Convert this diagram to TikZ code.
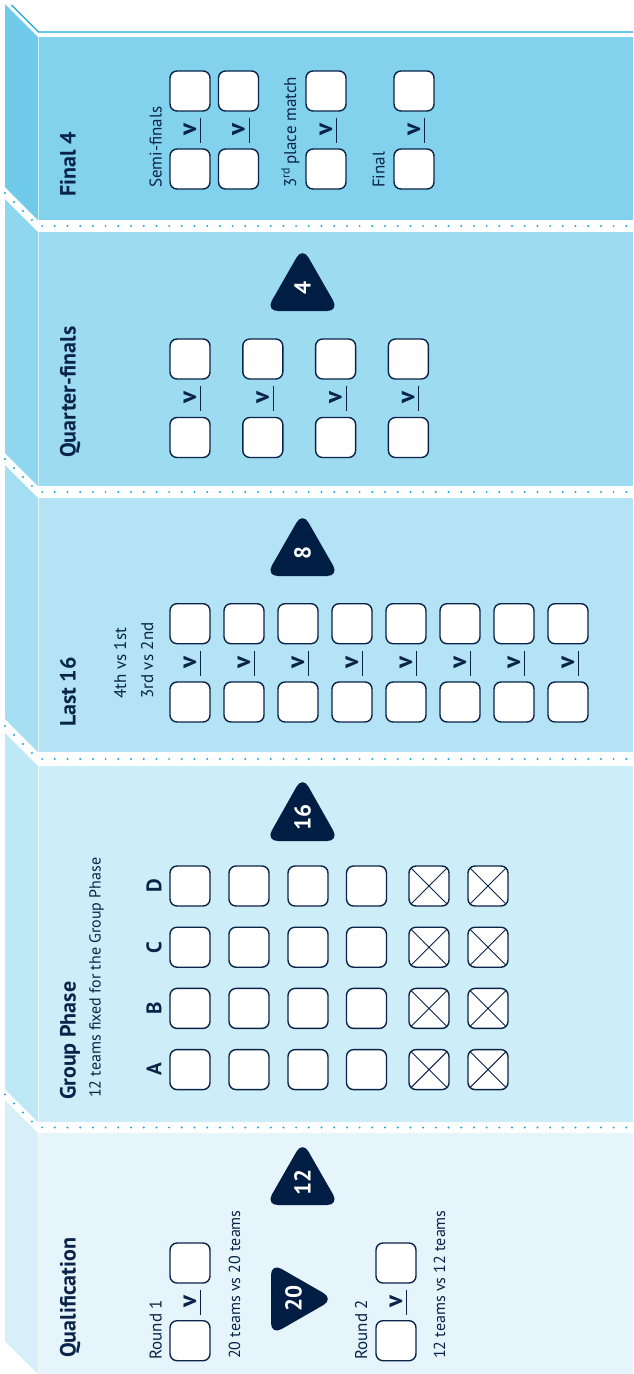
\documentclass[tikz,border=0pt]{standalone}
\usepackage{fontspec}
\setmainfont{PT Sans}
\definecolor{navy}{HTML}{0A2348}
\definecolor{trifill}{HTML}{001D44}
\definecolor{dotc}{HTML}{1DA7E0}
\definecolor{fA}{HTML}{82D1ED}\definecolor{sA}{HTML}{70CBEB}
\definecolor{fB}{HTML}{9DDBF1}\definecolor{sB}{HTML}{8FD6EF}
\definecolor{fC}{HTML}{B3E3F4}\definecolor{sC}{HTML}{A6DFF3}
\definecolor{fD}{HTML}{CDEDF8}\definecolor{sD}{HTML}{BFE8F6}
\definecolor{fE}{HTML}{E5F5FB}\definecolor{sE}{HTML}{D6EFF9}
\newcommand\vsmark[3]{%
  \node[vmark] (#1) at (#2+6,#3) {v};
  \draw[uline] (#2+10.5,#3-12.5) -- (#2+10.5,#3+12.5);}
\newcommand\slab[4]{%
  \fill[#4] (38,#1) -- (5,#1-33) -- (5,#2-33) -- (38,#2) -- cycle;
  \fill[#3] (38,#1) rectangle (633,#2);}
\newcommand\uptri[4]{%
  \fill[trifill,rounded corners=12pt] (302.5,#3) -- (265.9,#3) -- (302.5,#2-6.9) -- (339.1,#3) -- cycle;
  \node[num] (#1) at (302.5,#2+34) {#4};}
\begin{document}
\begin{tikzpicture}[x=1pt,y=-1pt,
  box/.style={draw=navy,line width=1.4pt,fill=white,rounded corners=7pt,minimum width=40pt,minimum height=40pt,inner sep=0pt},
  xbox/.style={box,path picture={\draw[navy,line width=.9pt] (path picture bounding box.north west)--(path picture bounding box.south east) (path picture bounding box.north east)--(path picture bounding box.south west);}},
  rtext/.style={rotate=90,anchor=base west,inner sep=0pt,text=navy},
  title/.style={rtext,font=\bfseries\fontsize{22}{24}\selectfont},
  lab/.style={rtext,font=\fontsize{17}{19}\selectfont},
  smalltext/.style={rtext,font=\fontsize{16}{18}\selectfont},
  vmark/.style={rotate=90,anchor=base,inner sep=0pt,text=navy,font=\bfseries\fontsize{25}{27}\selectfont},
  grp/.style={rotate=90,anchor=center,inner sep=0pt,text=navy,font=\bfseries\fontsize{21}{23}\selectfont},
  num/.style={rotate=90,anchor=center,inner sep=0pt,text=white,font=\bfseries\fontsize{23}{25}\selectfont},
  uline/.style={navy,line width=.9pt},
  dotline/.style={dotc,line width=2.2pt,line cap=round,dash pattern=on 0pt off 12.7pt},
]
\useasboundingbox (0,0) rectangle (633,1374);
\clip (0,0) rectangle (633,1374);
\fill[white] (0,0) rectangle (633,1374);
% slabs
\slab{37}{220}{fA}{sA}
\slab{232}{486}{fB}{sB}
\slab{498}{752}{fC}{sC}
\slab{766}{1122}{fD}{sD}
\slab{1133}{1374}{fE}{sE}
\draw[white,opacity=.6,line width=.8pt] (38,37) -- (38,1374);
% outlines
\draw[dotc,line width=1.3pt] (11.5,5) -- (38.5,32) -- (640,32);
\draw[dotline] (5,193) -- (38,226) -- (640,226);
\draw[dotline] (5,459) -- (38,492) -- (640,492);
\draw[dotline] (5,726) -- (38,759) -- (640,759);
\draw[dotline] (5,1094.5) -- (38,1127.5) -- (640,1127.5);

% ---------- Final 4
\node[title] (t1) at (75.5,197) {Final 4};
\foreach \n/\cx in {sa/190,sb/238.5,tp/326,fi/414}{
  \node[box] (\n top) at (\cx,91) {};
  \node[box] (\n bot) at (\cx,169) {};
  \vsmark{\n v}{\cx}{130}
}
\node[lab] (semi) at (161.5,188) {Semi-finals};
\node[lab] (third) at (296,188) {3\textsuperscript{rd}\,place match};
\node[lab] (finl) at (384.5,188) {Final};

% ---------- Quarter-finals
\node[title] (t2) at (75.5,458) {Quarter-finals};
\uptri{n4}{254}{311}{4}
\foreach \k/\cx in {1/190,2/262.8,3/335.6,4/408.4}{
  \node[box] (q\k top) at (\cx,359) {};
  \node[box] (q\k bot) at (\cx,437.5) {};
  \vsmark{q\k v}{\cx}{398}
}

% ---------- Last 16
\node[title] (t3) at (75.5,727) {Last 16};
\uptri{n8}{519}{576}{8}
\foreach \k in {0,...,7}{
  \pgfmathsetmacro\cx{190+54*\k}
  \node[box] (l\k top) at (\cx,623.7) {};
  \node[box] (l\k bot) at (\cx,702) {};
  \vsmark{l\k v}{\cx}{663}
}
\node[lab] (pair1) at (126,699) {4th vs 1st};
\node[lab] (pair2) at (153,699) {3rd vs 2nd};

% ---------- Group Phase
\node[title] (t4) at (75.5,1100) {Group Phase};
\node[smalltext] (sub4) at (100.5,1098) {12 teams fixed for the Group Phase};
\uptri{n16}{783}{841}{16}
\foreach \g/\ry in {D/886,C/947.2,B/1008.4,A/1069.6}{
  \node[grp] (g\g) at (154,\ry) {\g};
  \foreach \j/\cx in {1/190,2/249,3/308,4/366.5}{
    \node[box] (g\g\j) at (\cx,\ry) {};
  }
  \foreach \j/\cx in {5/429,6/488}{
    \node[xbox] (g\g\j) at (\cx,\ry) {};
  }
}

% ---------- Qualification
\node[title] (t5) at (75.5,1358) {Qualification};
\uptri{n12}{1148}{1205}{12}
\fill[trifill,rounded corners=12pt] (271,1299) -- (271,1262.9) -- (333.9,1299) -- (271,1335.1) -- cycle;
\node[num] (n20) at (293.5,1298) {20};
\node[box] (r1top) at (190,1263) {};
\node[box] (r1bot) at (190,1340.7) {};
\vsmark{r1v}{190}{1302}
\node[box] (r2top) at (396,1263) {};
\node[box] (r2bot) at (396,1340.7) {};
\vsmark{r2v}{396}{1302}
\node[lab] (rd1) at (161.5,1360) {Round 1};
\node[smalltext] (rd1t) at (240,1359) {20 teams vs 20 teams};
\node[lab] (rd2) at (367,1360) {Round 2};
\node[smalltext] (rd2t) at (445,1359) {12 teams vs 12 teams};
\end{tikzpicture}
\end{document}
